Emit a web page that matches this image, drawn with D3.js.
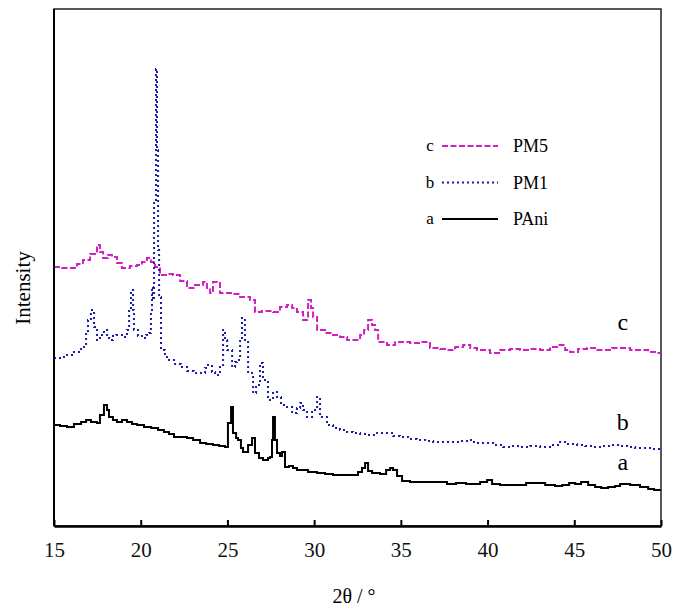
<!DOCTYPE html>
<html>
<head>
<meta charset="utf-8">
<script src="https://cdn.jsdelivr.net/npm/d3@7"></script>
<style>
  body { margin: 0; background: #fff; }
  svg text { font-family: "Liberation Serif", "DejaVu Serif", serif; }
</style>
</head>
<body>
<svg id="chart" width="677" height="610"></svg>
<script>
// x axis ticks (2θ, degrees)
const xTicks = [15, 20, 25, 30, 35, 40, 45, 50];

// a — PAni : [2θ, intensity (a.u.)]
const pani = [
  [15.0,101],[15.35,100],[15.75,99],[16.15,102],[16.56,104],[16.85,106],[17.13,104],[17.48,103],
  [17.65,111],[17.88,121],[18.06,116],[18.17,109],[18.4,106],[18.63,104],[18.92,106],[19.21,104],
  [19.5,102],[19.79,101],[20.19,99],[20.6,98],[21.0,96],[21.34,94],[21.63,92],[21.92,89],
  [22.32,89],[22.67,88],[23.02,86],[23.42,83],[23.77,82],[24.17,81],[24.52,80],[24.86,79],
  [25.03,103],[25.21,119],[25.32,93],[25.5,88],[25.61,86],[25.78,78],[25.9,74],[26.19,81],
  [26.42,88],[26.59,73],[26.82,68],[27.05,66],[27.34,68],[27.46,69],[27.57,86],[27.63,109],
  [27.74,86],[27.86,73],[28.03,70],[28.15,74],[28.32,59],[28.55,60],[28.78,58],[29.01,56],
  [29.19,56],[29.65,54],[30.17,53],[30.63,52],[31.09,51],[31.61,51],[32.07,51],[32.53,54],
  [32.76,58],[32.94,63],[33.11,55],[33.34,53],[33.8,52],[34.15,56],[34.38,58],[34.55,56],
  [34.78,50],[35.07,45],[35.53,44],[36.11,44],[36.68,44],[37.15,44],[37.66,42],[38.18,43],
  [38.76,42],[39.22,42],[39.57,44],[39.97,46],[40.26,42],[40.72,41],[41.3,41],[41.87,41],
  [42.22,43],[42.68,43],[43.32,41],[43.89,40],[44.3,41],[44.7,43],[45.05,42],[45.39,44],
  [45.8,41],[46.2,39],[46.55,38],[46.95,39],[47.35,40],[47.64,42],[48.22,41],[48.79,39],
  [49.26,37],[49.6,36],[49.95,35]
];

// b — PM1
const pm1 = [
  [15.0,168],[15.35,169],[15.75,171],[16.15,174],[16.56,179],[16.85,193],[16.96,206],[17.13,216],
  [17.31,199],[17.48,186],[17.65,191],[17.88,196],[18.06,190],[18.17,186],[18.4,190],[18.58,191],
  [18.92,189],[19.21,196],[19.33,216],[19.44,236],[19.56,216],[19.61,196],[19.84,190],[20.07,188],
  [20.31,191],[20.48,193],[20.59,216],[20.65,239],[20.71,226],[20.77,326],[20.88,457],[20.94,376],
  [21.0,276],[21.06,229],[21.17,176],[21.4,169],[21.63,166],[21.98,162],[22.32,159],[22.67,155],
  [23.07,153],[23.42,153],[23.71,158],[23.88,161],[24.11,154],[24.29,151],[24.57,159],[24.75,196],
  [24.86,186],[24.98,176],[25.27,159],[25.44,164],[25.55,166],[25.73,186],[25.84,208],[26.01,186],
  [26.19,153],[26.48,133],[26.65,141],[26.88,163],[27.05,146],[27.34,126],[27.63,134],[27.86,129],
  [28.09,121],[28.32,119],[28.73,113],[29.01,118],[29.19,123],[29.36,116],[29.59,109],[29.88,116],
  [30.17,129],[30.34,109],[30.74,101],[31.09,98],[31.49,96],[31.9,94],[32.24,93],[32.65,92],
  [33.05,91],[33.63,93],[34.2,93],[34.55,90],[34.95,89],[35.42,87],[35.93,86],[36.4,85],
  [36.86,84],[37.32,84],[37.84,84],[38.3,85],[38.82,86],[39.11,84],[39.39,83],[40.32,81],
  [40.6,81],[40.89,79],[41.3,80],[41.87,79],[42.45,80],[43.03,79],[43.6,81],[44.18,84],
  [44.64,82],[45.16,81],[45.62,80],[46.08,79],[46.6,80],[47.06,81],[47.53,80],[48.05,79],
  [48.51,78],[48.97,78],[49.43,77],[49.95,76]
];

// c — PM5
const pm5 = [
  [15.0,259],[15.46,258],[15.92,258],[16.33,262],[16.67,266],[17.08,272],[17.48,281],[17.65,274],
  [17.83,268],[18.11,271],[18.34,269],[18.63,263],[18.92,258],[19.38,260],[19.79,261],[20.07,264],
  [20.36,268],[20.59,264],[20.82,259],[21.11,251],[21.46,252],[21.86,251],[22.27,245],[22.67,238],
  [23.13,241],[23.59,244],[23.82,238],[24.0,233],[24.17,244],[24.4,243],[24.57,233],[24.98,233],
  [25.32,232],[25.73,229],[26.01,229],[26.3,226],[26.59,214],[26.99,215],[27.63,214],[28.03,219],
  [28.44,221],[28.73,218],[29.01,214],[29.36,206],[29.65,226],[29.82,218],[29.94,209],[30.17,196],
  [30.63,193],[31.09,191],[31.49,189],[31.9,186],[32.24,186],[32.65,191],[32.88,196],[33.11,206],
  [33.34,201],[33.51,196],[33.69,184],[34.2,181],[34.67,184],[34.95,184],[35.53,183],[36.11,184],
  [36.68,178],[37.26,177],[37.66,176],[38.13,179],[38.59,181],[39.0,178],[39.39,176],[40.14,173],
  [40.72,176],[41.3,177],[41.87,176],[42.45,177],[43.03,176],[43.6,179],[44.01,181],[44.47,176],
  [44.76,174],[45.22,177],[45.74,178],[46.2,176],[46.66,176],[47.18,178],[47.64,178],[48.22,176],
  [48.79,176],[49.26,174],[49.77,173],[49.95,173]
];

const seriesNames = ["PM5", "PM1", "PAni"];
const seriesKeys = ["c", "b", "a"];
const seriesData = [pm5, pm1, pani];
const seriesColors = ["#d21fc4", "#1c1ca8", "#000000"];
const seriesDash = ["6,2.5", "2,3", null];
// curve tag letters, placed at [2θ, intensity]
const tagPos = [[47.8, 196], [47.8, 96], [47.8, 56]];

const margin = {top: 9, right: 16, bottom: 84, left: 54};
const width = 677 - margin.left - margin.right;
const height = 610 - margin.top - margin.bottom;

const svg = d3.select("#chart");
const g = svg.append("g").attr("transform", `translate(${margin.left},${margin.top})`);

const x = d3.scaleLinear().domain([15, 50]).range([0, width]);
const y = d3.scaleLinear().domain([0, 517]).range([height, 0]);

const line = d3.line().x(d => x(d[0])).y(d => y(d[1])).curve(d3.curveStepAfter);

// curves
seriesData.forEach((data, i) => {
  g.append("path")
    .datum(data)
    .attr("fill", "none")
    .attr("stroke", seriesColors[i])
    .attr("stroke-width", 2)
    .attr("stroke-dasharray", seriesDash[i])
    .attr("d", line);

  g.append("text")
    .attr("x", x(tagPos[i][0]))
    .attr("y", y(tagPos[i][1]))
    .attr("text-anchor", "middle")
    .attr("font-size", 24)
    .text(seriesKeys[i]);
});

// frame
g.append("rect")
  .attr("width", width).attr("height", height)
  .attr("fill", "none").attr("stroke", "#222").attr("stroke-width", 1.5);

// bottom axis, ticks pointing inward
const xAxis = g.append("g")
  .attr("transform", `translate(0,${height})`)
  .call(d3.axisBottom(x).tickValues(xTicks).tickSizeInner(-6).tickSizeOuter(0).tickPadding(16));
xAxis.select(".domain").attr("stroke", "#000").attr("stroke-width", 2.5);
xAxis.selectAll(".tick line").attr("stroke-width", 2);
xAxis.selectAll(".tick text")
  .attr("font-family", "Liberation Serif, serif")
  .attr("font-size", 21)
  .attr("fill", "#111");

// left axis line only
g.append("line")
  .attr("x1", 0).attr("x2", 0).attr("y1", 0).attr("y2", height)
  .attr("stroke", "#000").attr("stroke-width", 2);

// axis titles
svg.append("text")
  .attr("x", margin.left + x(32.3))
  .attr("y", 603)
  .attr("text-anchor", "middle")
  .attr("font-size", 20)
  .text("2θ / °");

svg.append("text")
  .attr("transform", `translate(30,${margin.top + y(238)}) rotate(-90)`)
  .attr("text-anchor", "middle")
  .attr("font-size", 21)
  .text("Intensity");

// legend
const legend = g.append("g").attr("transform", `translate(${430 - margin.left},${146 - margin.top})`);
seriesNames.forEach((name, i) => {
  const row = legend.append("g").attr("transform", `translate(0,${i * 36.5})`);
  row.append("text").attr("x", 0).attr("y", 5).attr("text-anchor", "middle")
    .attr("font-size", 17).text(seriesKeys[i]);
  row.append("line").attr("x1", 12).attr("x2", 68).attr("y1", 0).attr("y2", 0)
    .attr("stroke", seriesColors[i]).attr("stroke-width", 2)
    .attr("stroke-dasharray", seriesDash[i]);
  row.append("text").attr("x", 83).attr("y", 6)
    .attr("font-size", 18).text(name);
});
</script>
</body>
</html>
